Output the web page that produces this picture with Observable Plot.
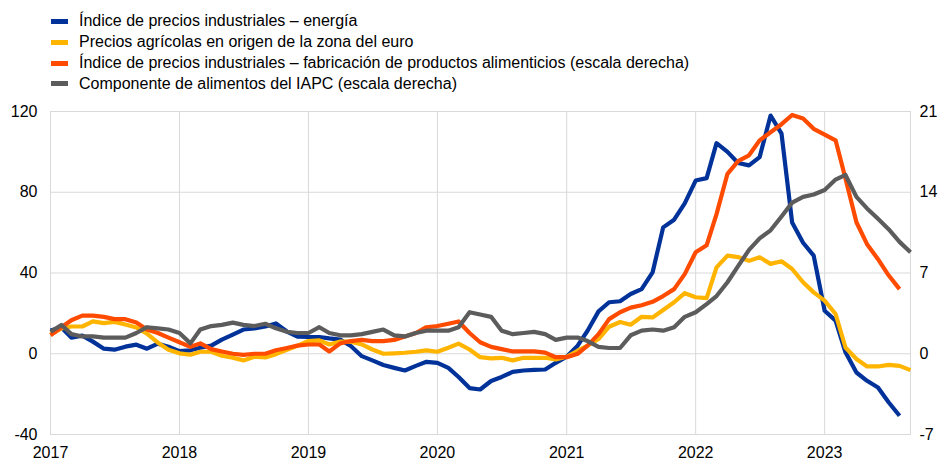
<!DOCTYPE html>
<html>
<head>
<meta charset="utf-8">
<script src="https://cdn.jsdelivr.net/npm/d3@7"></script>
<script src="https://cdn.jsdelivr.net/npm/@observablehq/plot@0.6"></script>
<style>
  body { margin: 0; background: #fff; font-family: "Liberation Sans", Arial, sans-serif; }
  #legend { height: 98px; box-sizing: border-box; padding-top: 10.8px; padding-left: 51px; font-size: 16px; color: #000; }
  .row { height: 20.9px; display: flex; align-items: center; white-space: nowrap; }
  .sw { width: 17px; height: 5px; margin-right: 11px; flex: none; }
</style>
</head>
<body>
<div id="legend"></div>
<div id="chart"></div>
<script>
// Monthly series starting January 2017
const startYear = 2017;

// Left scale: annual % changes
const energyPPI = [
  11.5, 13, 8, 9, 6, 2.5, 2, 3.5, 4.5, 2.5, 5, 3.5,
  1.3, 1.7, 3, 4, 7, 9.5, 12, 12.5, 13.5, 15, 11, 8.5,
  8.3, 8.3, 7.6, 7, 3.8, -1.2, -3.3, -5.6, -7, -8.3, -6, -4,
  -4.5, -7, -11.5, -17, -17.7, -13.5, -11.5, -9, -8.3, -8, -7.8, -4.5,
  -1.5, 4, 11.4, 21, 25.5, 26, 29.6, 32, 40.3, 62.6, 66.4, 74.5,
  85.8, 87, 104.3, 100, 94.5, 93.3, 97.4, 118, 109, 65, 55, 48.6,
  21.3, 16.4, 0.7, -9.3, -13.4, -16.7, -24, -30.7
];
const agriPrices = [
  9.5, 12.5, 13.5, 13.5, 16, 15.2, 15.8, 14.5, 13, 10, 5.5, 2,
  0.2, -0.5, 1, 1, -1, -2, -3.3, -1.5, -1.8, -0.2, 2, 4,
  6.3, 6.6, 4.6, 6, 6, 4.6, 2.1, 0, 0.2, 0.5, 1, 1.7,
  1, 3, 5, 2.1, -1.7, -2.3, -2, -3.3, -2, -2, -2, -2.8,
  -1.5, 1.5, 4, 7.3, 13.4, 15.7, 14.4, 18.3, 18, 21.7, 25.5, 30,
  28, 27.6, 42.8, 48.6, 47.9, 46, 47.8, 44.5, 45.8, 42, 35.4, 30.4,
  26.3, 19.7, 3.1, -2.6, -6.3, -6.3, -5.5, -6, -8.1
];

// Right scale: annual % changes
const foodPPI = [
  1.6, 2.3, 2.9, 3.3, 3.3, 3.2, 3.0, 3.0, 2.7, 2.1, 1.8, 1.4,
  1.0, 0.6, 0.9, 0.4, 0.2, 0.0, -0.1, 0.0, 0.0, 0.3, 0.5, 0.7,
  0.8, 0.8, 0.2, 0.9, 1.1, 1.2, 1.1, 1.1, 1.2, 1.5, 1.8, 2.3,
  2.4, 2.6, 2.8, 1.8, 1.0, 0.6, 0.4, 0.2, 0.2, 0.2, 0.1, -0.3,
  -0.3, 0.0, 0.7, 1.7, 3.0, 3.6, 4.0, 4.2, 4.5, 5.0, 5.6, 6.9,
  8.8, 9.4, 12.1, 15.6, 16.7, 17.2, 18.5, 19.2, 19.9, 20.7, 20.4, 19.5,
  19.0, 18.5, 15.2, 11.4, 9.5, 8.2, 6.8, 5.6
];
const hicpFood = [
  1.9, 2.5, 1.7, 1.5, 1.5, 1.4, 1.4, 1.4, 1.8, 2.3, 2.2, 2.1,
  1.8, 0.9, 2.1, 2.4, 2.5, 2.7, 2.5, 2.4, 2.6, 2.2, 1.9, 1.8,
  1.8, 2.3, 1.8, 1.6, 1.6, 1.7, 1.9, 2.1, 1.6, 1.5, 1.8, 2.0,
  2.0, 2.0, 2.3, 3.6, 3.4, 3.2, 2.0, 1.7, 1.8, 1.9, 1.7, 1.2,
  1.4, 1.4, 1.1, 0.6, 0.5, 0.5, 1.6, 2.0, 2.1, 2.0, 2.3, 3.2,
  3.6, 4.3, 5.0, 6.2, 7.6, 9.0, 10.0, 10.7, 11.9, 13.1, 13.6, 13.8,
  14.2, 15.1, 15.5, 13.6, 12.6, 11.7, 10.8, 9.7, 8.8
];

const seriesNames = [
  "Índice de precios industriales – energía",
  "Precios agrícolas en origen de la zona del euro",
  "Índice de precios industriales – fabricación de productos alimenticios (escala derecha)",
  "Componente de alimentos del IAPC (escala derecha)"
];
const seriesColors = ["#003299", "#FFB400", "#FF4B00", "#5C5C5C"];

const leftTicks = [-40, 0, 40, 80, 120];
const rightTicks = [-7, 0, 7, 14, 21];
const yearTicks = [2017, 2018, 2019, 2020, 2021, 2022, 2023];
const endMonth = { year: 2023, month: 9 };

// ratio between right and left scale
const ratio = rightTicks[rightTicks.length - 1] / leftTicks[leftTicks.length - 1];

const monthDate = i => new Date(Date.UTC(startYear, i, 1));
function toRows(values, name, scale) {
  return values.map((v, i) => ({ date: monthDate(i), value: v / scale, name }));
}
const rows = [
  ...toRows(energyPPI, seriesNames[0], 1),
  ...toRows(agriPrices, seriesNames[1], 1),
  ...toRows(foodPPI, seriesNames[2], ratio),
  ...toRows(hicpFood, seriesNames[3], ratio)
];

// Legend
const legend = document.getElementById("legend");
seriesNames.forEach((n, i) => {
  const row = document.createElement("div");
  row.className = "row";
  const sw = document.createElement("span");
  sw.className = "sw";
  sw.style.background = seriesColors[i];
  const t = document.createElement("span");
  t.textContent = n;
  row.appendChild(sw);
  row.appendChild(t);
  legend.appendChild(row);
});

const yearDates = yearTicks.map(y => new Date(Date.UTC(y, 0, 1)));
const gridColor = "#d9d9d9";

const chart = Plot.plot({
  width: 938,
  height: 363,
  marginLeft: 50,
  marginRight: 28,
  marginTop: 13,
  marginBottom: 27,
  style: { fontFamily: "'Liberation Sans', Arial, sans-serif", fontSize: "16px", color: "#000", background: "#fff" },
  x: { type: "utc", domain: [new Date(Date.UTC(startYear, 0, 1)), new Date(Date.UTC(endMonth.year, endMonth.month - 1, 1))] },
  y: { domain: [leftTicks[0], leftTicks[leftTicks.length - 1]] },
  color: { domain: seriesNames, range: seriesColors },
  marks: [
    Plot.gridY(leftTicks, { stroke: gridColor, strokeOpacity: 1, strokeWidth: 1 }),
    Plot.gridX(yearDates, { stroke: gridColor, strokeOpacity: 1, strokeWidth: 1 }),
    Plot.frame({ stroke: gridColor, strokeWidth: 1 }),
    ...seriesNames.map(n => Plot.line(rows.filter(r => r.name === n), {
      x: "date", y: "value", stroke: "name", strokeWidth: 4.2, strokeLinejoin: "round", strokeLinecap: "butt"
    })),
    Plot.axisY(leftTicks, { anchor: "left", tickSize: 0, tickPadding: 13, fontSize: 16, label: null,
      tickFormat: d => String(d) }),
    Plot.axisY(leftTicks, { anchor: "right", tickSize: 0, tickPadding: 9, fontSize: 16, label: null,
      tickFormat: d => String(Math.round(d * ratio)) }),
    Plot.axisX(yearDates, { tickSize: 0, tickPadding: 12, fontSize: 16, label: null, tickFormat: d3.utcFormat("%Y") })
  ]
});
document.getElementById("chart").appendChild(chart);
</script>
</body>
</html>
